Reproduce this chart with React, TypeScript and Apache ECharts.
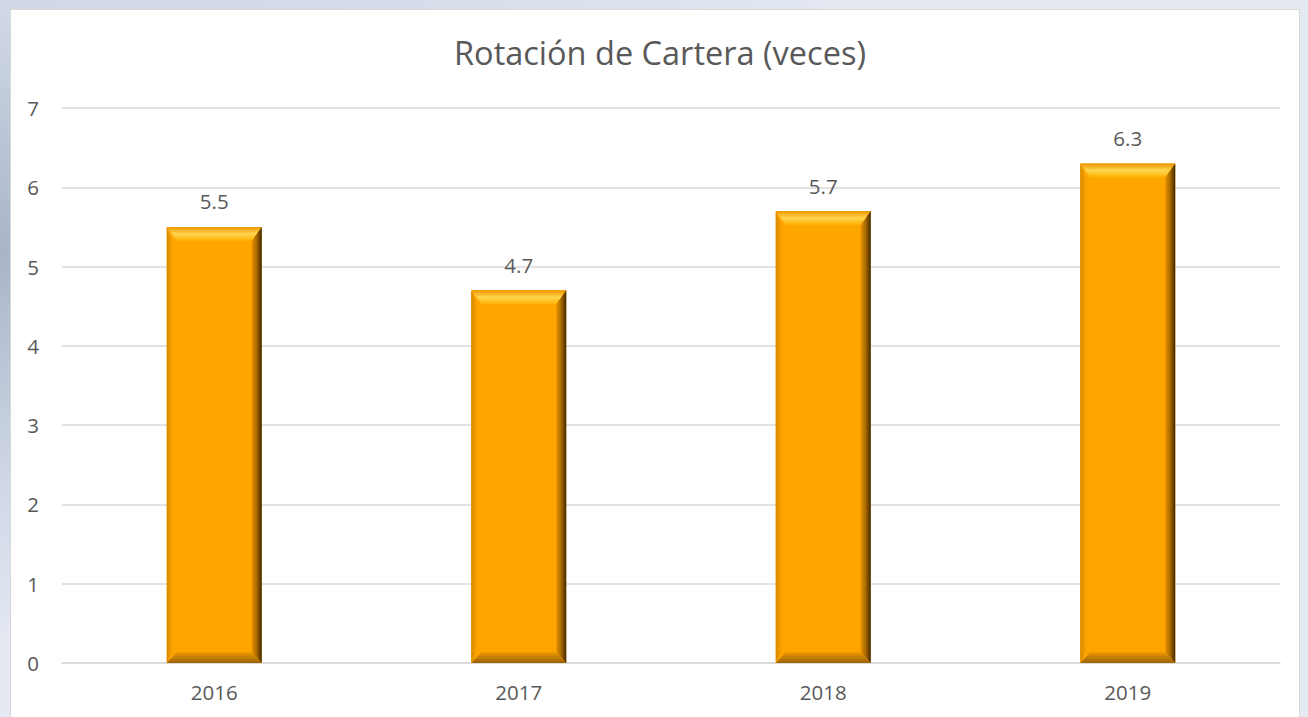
import React, { useEffect, useRef } from "react";
import * as echarts from "echarts";

const title = "Rotación de Cartera (veces)";
const categories = ["2016", "2017", "2018", "2019"];
const values = [5.5, 4.7, 5.7, 6.3];
const yTicks = { min: 0, max: 7, interval: 1 };

const FONT = "'Open Sans', 'Noto Sans', sans-serif";
const TEXT = "#595959";

export default function App() {
  const ref = useRef<HTMLDivElement>(null);
  useEffect(() => {
    document.body.style.margin = "0";
    const chart = echarts.init(ref.current!, undefined, { renderer: "svg" });
    const lg = (x1: number, y1: number, x2: number, y2: number, stops: [number, string][]) =>
      new echarts.graphic.LinearGradient(x1, y1, x2, y2, stops.map(([offset, color]) => ({ offset, color })));
    chart.setOption({
      animation: false,
      backgroundColor: "transparent",
      title: {
        text: title,
        left: 655,
        top: 31,
        textAlign: "center",
        textStyle: { fontFamily: FONT, fontSize: 32.5, fontWeight: "normal", color: TEXT },
      },
      grid: { left: 62, right: 28, top: 108, bottom: 54, containLabel: false },
      xAxis: {
        type: "category",
        data: categories,
        axisLine: { show: true, lineStyle: { color: "#d9d9d9", width: 1.5 } },
        axisTick: { show: false },
        axisLabel: { fontFamily: FONT, fontSize: 20.5, color: TEXT, margin: 18 },
      },
      yAxis: {
        type: "value",
        min: yTicks.min,
        max: yTicks.max,
        interval: yTicks.interval,
        axisLine: { show: false },
        axisTick: { show: false },
        splitLine: { lineStyle: { color: "#d9d9d9", width: 1.5 } },
        axisLabel: { fontFamily: FONT, fontSize: 20.5, color: TEXT, margin: 23 },
      },
      series: [
        {
          type: "custom",
          data: values.map((v, i) => [i, v]),
          renderItem: (params: any, api: any) => {
            const idx = api.value(0);
            const val = api.value(1);
            const top = api.coord([idx, val]);
            const base = api.coord([idx, 0]);
            const w = api.size([1, 0])[0] * 0.312;
            const x0 = top[0] - w / 2;
            const x1 = top[0] + w / 2;
            const y0 = top[1];
            const y1 = base[1];
            const bt = 14;
            const bs = 10;
            const bb = 11;
            return {
              type: "group",
              children: [
                { type: "rect", shape: { x: x0, y: y0, width: w, height: y1 - y0 }, style: { fill: "#FFA500" } },
                {
                  type: "polygon",
                  shape: { points: [[x0, y0], [x1, y0], [x1 - bs, y0 + bt], [x0 + bs, y0 + bt]] },
                  style: { fill: lg(0, 0, 0, 1, [[0, "#EE9600"], [0.5, "#FFD54F"], [1, "#FFB000"]]) },
                },
                {
                  type: "polygon",
                  shape: { points: [[x1, y0], [x1, y1], [x1 - bs, y1 - bb], [x1 - bs, y0 + bt]] },
                  style: { fill: lg(0, 0, 1, 0, [[0, "#E89200"], [0.5, "#A86800"], [1, "#3F2800"]]) },
                },
                {
                  type: "polygon",
                  shape: { points: [[x0, y1], [x1, y1], [x1 - bs, y1 - bb], [x0 + bs, y1 - bb]] },
                  style: { fill: lg(0, 0, 0, 1, [[0, "#F09A00"], [1, "#9A6200"]]) },
                },
                {
                  type: "polygon",
                  shape: { points: [[x0, y0], [x0, y1], [x0 + bs * 0.6, y1 - bb], [x0 + bs * 0.6, y0 + bt]] },
                  style: { fill: lg(0, 0, 1, 0, [[0, "#D98A00"], [1, "#FBA300"]]) },
                },
                {
                  type: "text",
                  style: {
                    text: String(val),
                    x: top[0],
                    y: y0 - 15,
                    align: "center",
                    verticalAlign: "bottom",
                    fontFamily: FONT,
                    fontSize: 20.5,
                    fill: TEXT,
                  },
                },
              ],
            };
          },
        },
      ],
    });
    return () => chart.dispose();
  }, []);

  return (
    <div
      style={{
        position: "relative",
        width: 1308,
        height: 717,
        overflow: "hidden",
        background:
          "radial-gradient(ellipse at 0% 35%, #a9b4c8 0%, #cfd7e6 35%, #e4e9f2 60%), linear-gradient(90deg, #c2cce0 0%, #d4dcea 50%, #cdd6e7 85%, #f2f4f8 100%)",
      }}
    >
      <div
        style={{
          position: "absolute",
          left: 10,
          top: 9,
          width: 1290,
          height: 720,
          background: "#ffffff",
          border: "1px solid #d9d9d9",
          boxSizing: "border-box",
        }}
      />
      <div ref={ref} style={{ position: "absolute", left: 0, top: 0, width: 1308, height: 717 }} />
    </div>
  );
}
